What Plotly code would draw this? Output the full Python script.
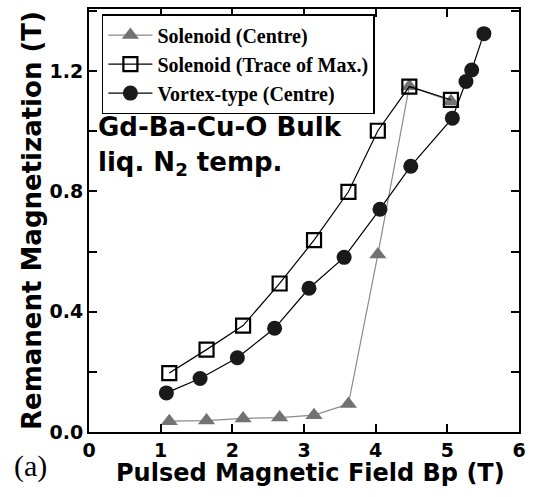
import plotly.graph_objects as go

# Data
tri_x = [1.12, 1.64, 2.15, 2.66, 3.14, 3.62, 4.03, 4.47, 5.05]
tri_y = [0.036, 0.038, 0.045, 0.048, 0.056, 0.093, 0.59, 1.15, 1.10]

sq_x = [1.12, 1.64, 2.15, 2.66, 3.14, 3.62, 4.03, 4.47, 5.05]
sq_y = [0.196, 0.274, 0.354, 0.494, 0.638, 0.799, 1.002, 1.149, 1.105]

ci_x = [1.08, 1.55, 2.07, 2.59, 3.07, 3.56, 4.06, 4.49, 5.07, 5.26, 5.34, 5.51]
ci_y = [0.130, 0.178, 0.247, 0.345, 0.478, 0.581, 0.741, 0.884, 1.044, 1.166, 1.204, 1.325]

names = ["Solenoid (Centre)", "Solenoid (Trace of Max.)", "Vortex-type (Centre)"]
x_ticks = [0, 1, 2, 3, 4, 5, 6]
y_ticks = [0.0, 0.4, 0.8, 1.2]
y_tick_text = ["0.0", "0.4", "0.8", "1.2"]

fig = go.Figure()
fig.add_trace(go.Scatter(
    x=tri_x, y=tri_y, name=names[0], mode="lines+markers",
    line=dict(color="#8a8a8a", width=1.2),
    marker=dict(symbol="triangle-up", size=15, color="#727272", line=dict(width=0)),
))
fig.add_trace(go.Scatter(
    x=sq_x, y=sq_y, name=names[1], mode="lines+markers",
    line=dict(color="black", width=1.2),
    marker=dict(symbol="square-open", size=14, color="black", line=dict(width=2.2, color="black")),
))
fig.add_trace(go.Scatter(
    x=ci_x, y=ci_y, name=names[2], mode="lines+markers",
    line=dict(color="black", width=1.2),
    marker=dict(symbol="circle", size=15, color="#1a1a1a", line=dict(width=0)),
))

tickfont = dict(family="DejaVu Sans", size=19, color="black", weight="bold")

fig.update_layout(
    width=548, height=497,
    margin=dict(l=89, r=29, t=7, b=65),
    paper_bgcolor="white", plot_bgcolor="white",
    showlegend=True,
    legend=dict(
        x=0.03, y=0.988, xanchor="left", yanchor="top",
        bgcolor="white", bordercolor="black", borderwidth=1.5,
        font=dict(family="Liberation Serif", size=20, color="black", weight="bold"),
        itemwidth=44, tracegroupgap=0,
    ),
    xaxis=dict(
        range=[0, 6], tickvals=x_ticks, ticktext=[str(v) for v in x_ticks],
        ticks="inside", ticklen=8, tickwidth=2, tickcolor="black",
        showline=True, linewidth=2, linecolor="black", mirror="ticks",
        showgrid=False, zeroline=False, tickfont=tickfont,
    ),
    yaxis=dict(
        range=[0, 1.407], tickvals=y_ticks, ticktext=y_tick_text,
        ticks="inside", ticklen=8, tickwidth=2, tickcolor="black",
        minor=dict(dtick=0.2, tick0=0, ticks="inside", ticklen=8, tickwidth=2, tickcolor="black", showgrid=False),
        showline=True, linewidth=2, linecolor="black", mirror="ticks",
        showgrid=False, zeroline=False, tickfont=tickfont,
        title=dict(text="Remanent Magnetization (T)", font=dict(family="DejaVu Sans", size=26, color="black", weight="bold"), standoff=0),
    ),
    annotations=[
        dict(text="Pulsed Magnetic Field Bp (T)", xref="paper", yref="paper", x=0.516, y=-0.0965,
             xanchor="center", yanchor="middle", showarrow=False,
             font=dict(family="DejaVu Sans", size=24, color="black", weight="bold")),
        dict(text="Gd-Ba-Cu-O Bulk", xref="paper", yref="paper", x=0.016, y=0.722,
             xanchor="left", yanchor="middle", showarrow=False,
             font=dict(family="DejaVu Sans", size=26, color="black", weight="bold")),
        dict(text="liq. N<sub>2</sub> temp.", xref="paper", yref="paper", x=0.016, y=0.635,
             xanchor="left", yanchor="middle", showarrow=False,
             font=dict(family="DejaVu Sans", size=26, color="black", weight="bold")),
        dict(text="(a)", xref="paper", yref="paper", x=-0.18, y=-0.08,
             xanchor="left", yanchor="middle", showarrow=False,
             font=dict(family="Liberation Serif", size=30, color="black")),
    ],
)

fig.write_html("out.html")
